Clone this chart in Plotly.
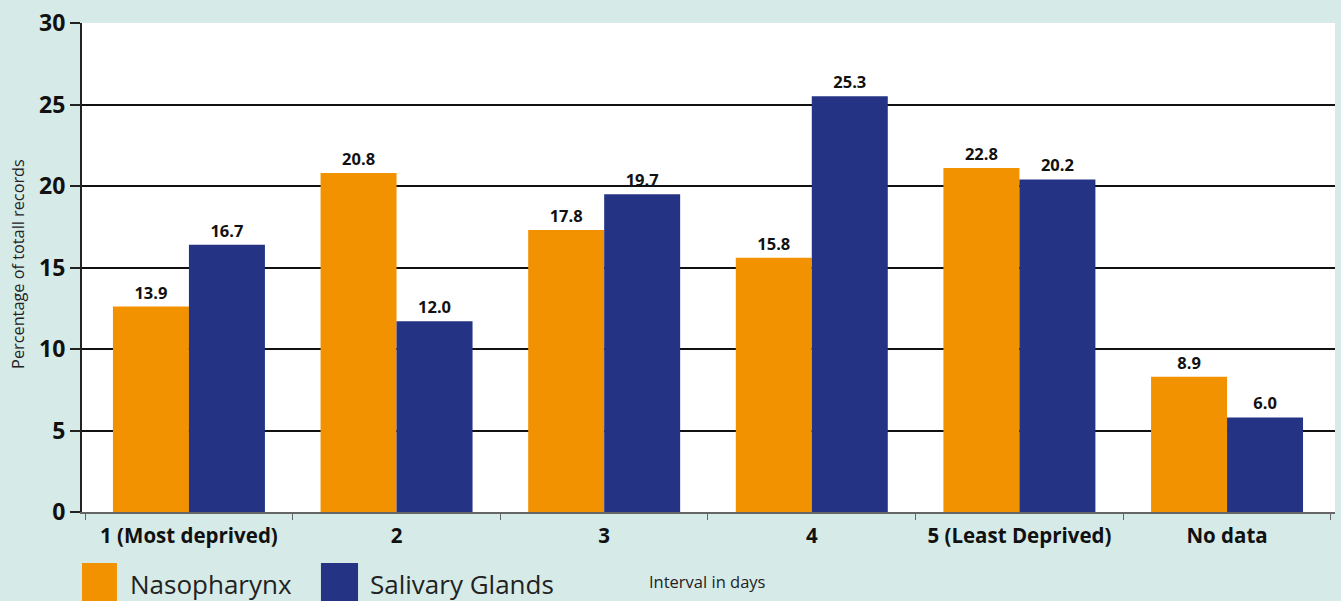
import plotly.graph_objects as go

# categories and values
categories = ["1 (Most deprived)", "2", "3", "4", "5 (Least Deprived)", "No data"]
nasopharynx = [12.6, 20.8, 17.3, 15.6, 21.1, 8.3]
salivary = [16.4, 11.7, 19.5, 25.5, 20.4, 5.8]
# labels printed above bars (as printed in the source chart)
naso_labels = ["13.9", "20.8", "17.8", "15.8", "22.8", "8.9"]
saliv_labels = ["16.7", "12.0", "19.7", "25.3", "20.2", "6.0"]
y_ticks = [0, 5, 10, 15, 20, 25, 30]

ORANGE = "#F39200"
NAVY = "#253385"
BG = "#D6EBE8"
FONT = "Open Sans, Noto Sans, sans-serif"

fig = go.Figure()
fig.add_trace(go.Bar(
    x=categories, y=nasopharynx, name="Nasopharynx",
    marker=dict(color=ORANGE, line=dict(width=0)),
    text=naso_labels, textposition="outside", cliponaxis=False, constraintext="none",
    textfont=dict(size=16.5, color="#111111", family=FONT, weight="bold"),
    showlegend=False,
))
fig.add_trace(go.Bar(
    x=categories, y=salivary, name="Salivary Glands",
    marker=dict(color=NAVY, line=dict(width=0)),
    text=saliv_labels, textposition="outside", cliponaxis=False, constraintext="none",
    textfont=dict(size=16.5, color="#111111", family=FONT, weight="bold"),
    showlegend=False,
))

fig.update_layout(
    width=1341, height=601,
    margin=dict(l=82, r=6, t=23, b=89),
    paper_bgcolor=BG, plot_bgcolor="white",
    barmode="group", bargap=0.268, bargroupgap=0,
    font=dict(family=FONT, color="#111111"),
)
fig.update_yaxes(
    range=[0, 30], tickvals=y_ticks,
    showgrid=True, gridcolor="#111111", gridwidth=2,
    zeroline=False,
    showline=True, linecolor="#222222", linewidth=2,
    ticks="outside", ticklen=10, tickcolor="#222222", tickwidth=2,
    tickfont=dict(size=23, family=FONT, weight="bold"),
)
fig.update_xaxes(
    range=[-0.515, 5.52],
    showline=True, linecolor="#666666", linewidth=2,
    ticks="outside", tickson="boundaries", ticklen=6, tickcolor="#666666", tickwidth=1,
    tickfont=dict(size=20.5, family=FONT, weight="bold"),
    ticklabelstandoff=4,
)

# y axis title
fig.add_annotation(
    text="Percentage of totall records", xref="paper", yref="paper",
    x=-0.062, y=0.508, textangle=-90, showarrow=False,
    font=dict(size=16.3, family=FONT, color="#222222"),
)

# legend drawn as big swatches + text
fig.add_shape(type="rect", xref="paper", yref="paper",
              x0=0.0, x1=0.0279, y0=-0.185, y1=-0.1043,
              fillcolor=ORANGE, line=dict(width=0))
fig.add_shape(type="rect", xref="paper", yref="paper",
              x0=0.1907, x1=0.2203, y0=-0.185, y1=-0.1043,
              fillcolor=NAVY, line=dict(width=0))
fig.add_annotation(text="Nasopharynx", xref="paper", yref="paper",
                   x=0.0367, y=-0.147, xanchor="left", yanchor="middle", showarrow=False,
                   font=dict(size=26, family=FONT, color="#222222"))
fig.add_annotation(text="Salivary Glands", xref="paper", yref="paper",
                   x=0.2283, y=-0.147, xanchor="left", yanchor="middle", showarrow=False,
                   font=dict(size=26, family=FONT, color="#222222"))
fig.add_annotation(text="Interval in days", xref="paper", yref="paper",
                   x=0.451, y=-0.143, xanchor="left", yanchor="middle", showarrow=False,
                   font=dict(size=16.5, family=FONT, color="#222222"))

fig.write_html("out.html", config={"displayModeBar": False},
               post_script="document.body.style.margin='0px';")
